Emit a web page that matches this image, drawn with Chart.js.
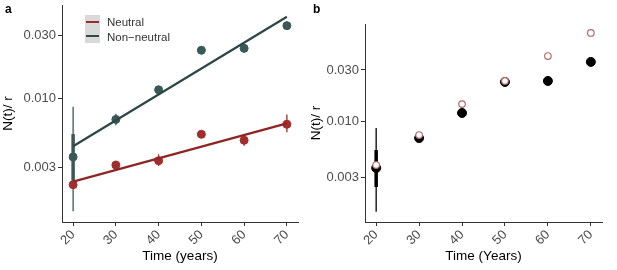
<!DOCTYPE html>
<html>
<head>
<meta charset="utf-8">
<script src="https://cdn.jsdelivr.net/npm/chart.js@4.4.1/dist/chart.umd.min.js"></script>
<style>
  body { margin: 0; background: #fff; font-family: "Liberation Sans", Arial, sans-serif; }
  #wrap { position: relative; width: 617px; height: 270px; overflow: hidden; }
  .panel { position: absolute; top: 0; height: 270px; }
  .tag { position: absolute; font-weight: bold; font-size: 12px; color: #000; }
  #legend { position: absolute; left: 85px; top: 15px; font-size: 11.5px; color: #333; }
  .key { position: absolute; width: 15px; height: 14px; background: #d9d9d9; }
  .key span { position: absolute; left: 1px; right: 1px; top: 6px; height: 2px; }
  .lab { position: absolute; left: 22px; white-space: nowrap; }
</style>
</head>
<body>
<div id="wrap">
  <div class="panel" style="left:0;width:308px"><canvas id="chartA"></canvas></div>
  <div class="panel" style="left:308px;width:309px"><canvas id="chartB"></canvas></div>
  <div class="tag" style="left:5px;top:2px">a</div>
  <div class="tag" style="left:313px;top:2px">b</div>
  <div id="legend">
    <div class="key" style="top:0"><span style="background:#9b2a2a"></span></div>
    <div class="lab" style="top:1px">Neutral</div>
    <div class="key" style="top:14px"><span style="background:#2f4a47"></span></div>
    <div class="lab" style="top:16px">Non&minus;neutral</div>
  </div>
</div>
<script>
// data
const years = [20, 30, 40, 50, 60, 70];
const xTicks = [20, 30, 40, 50, 60, 70];
const yTicks = [0.003, 0.010, 0.030];

// panel a, non-neutral
const nonNeutral   = [0.00363, 0.00697, 0.01167, 0.0232, 0.0240, 0.0356];
const nonNeutralLo = [0.00141, 0.0063, 0.0110, 0.0232, 0.0222, 0.0332];
const nonNeutralHi = [0.0087, 0.0077, 0.0124, 0.0232, 0.0260, 0.0382];
const nonNeutralThickLo = [0.0024, null, null, null, null, null];
const nonNeutralThickHi = [0.0054, null, null, null, null, null];
const nonNeutralFit = [0.00437, 0.0416]; // at 20 and 70

// panel a, neutral
const neutral   = [0.00224, 0.00315, 0.0034, 0.00538, 0.00485, 0.0064];
const neutralLo = [0.00224, 0.0029, 0.0031, 0.00538, 0.0044, 0.00557];
const neutralHi = [0.00224, 0.0034, 0.0038, 0.00538, 0.0053, 0.0076];
const neutralFit = [0.00236, 0.0065];

// panel b
const observed   = [0.00364, 0.00693, 0.0119, 0.0232, 0.0237, 0.0357];
const observedLo = [0.00142, null, null, null, null, null];
const observedHi = [0.00861, null, null, null, null, null];
const observedThickLo = [0.00242, null, null, null, null, null];
const observedThickHi = [0.00536, null, null, null, null, null];
const expected   = [0.00388, 0.0074, 0.0144, 0.0237, 0.0405, 0.0666];

const teal = '#3a5855';
const tealLine = '#2d4744';
const red = '#a32d2d';
const redLine = '#8e2525';

function pts(ys) {
  return years.map((x, i) => ({ x: x, y: ys[i] }));
}

// draws the vertical error bars from errLo/errHi through the scales
const errorBars = {
  id: 'errorBars',
  beforeDatasetsDraw(chart) {
    const ctx = chart.ctx;
    const xs = chart.scales.x, ys = chart.scales.y;
    chart.data.datasets.forEach(ds => {
      if (!ds.errLo) return;
      ds.data.forEach((p, i) => {
        const px = xs.getPixelForValue(p.x);
        ctx.save();
        ctx.strokeStyle = ds.errColor;
        if (ds.errLo[i] != null && ds.errLo[i] !== ds.errHi[i]) {
          ctx.lineWidth = 1.3;
          ctx.beginPath();
          ctx.moveTo(px, ys.getPixelForValue(ds.errLo[i]));
          ctx.lineTo(px, ys.getPixelForValue(ds.errHi[i]));
          ctx.stroke();
        }
        if (ds.thickLo && ds.thickLo[i] != null) {
          ctx.lineWidth = 3.5;
          ctx.beginPath();
          ctx.moveTo(px, ys.getPixelForValue(ds.thickLo[i]));
          ctx.lineTo(px, ys.getPixelForValue(ds.thickHi[i]));
          ctx.stroke();
        }
        ctx.restore();
      });
    });
  }
};

function scalesFor(yMin, yMax, yWidth, xTitle) {
  return {
    x: {
      type: 'linear',
      min: 17.4,
      max: 72.6,
      afterBuildTicks: s => { s.ticks = xTicks.map(v => ({ value: v })); },
      afterFit: s => { s.height = 48; s.paddingLeft = 0; s.paddingRight = 0; },
      ticks: {
        minRotation: 45, maxRotation: 45, padding: 1,
        color: '#4d4d4d',
        font: { family: '"Liberation Sans", Arial', size: 13 }
      },
      grid: { drawOnChartArea: false, drawTicks: true, tickLength: 4, color: '#333' },
      border: { color: '#333', width: 1 },
      title: {
        display: true, text: xTitle, color: '#000',
        font: { family: '"Liberation Sans", Arial', size: 13.5 },
        padding: { top: 0, bottom: 6 }
      }
    },
    y: {
      type: 'logarithmic',
      min: yMin,
      max: yMax,
      afterBuildTicks: s => { s.ticks = yTicks.map(v => ({ value: v })); },
      afterFit: s => { s.width = yWidth; s.paddingTop = 0; s.paddingBottom = 0; },
      ticks: {
        callback: v => v.toFixed(3),
        padding: 2,
        color: '#4d4d4d',
        font: { family: '"Liberation Sans", Arial', size: 13 }
      },
      grid: { drawOnChartArea: false, drawTicks: true, tickLength: 4, color: '#333' },
      border: { color: '#333', width: 1 },
      title: {
        display: true, text: 'N(t)/ r', color: '#000',
        font: { family: '"Liberation Sans", Arial', size: 13.5 },
        padding: { top: 0, bottom: 0 }
      }
    }
  };
}

new Chart(document.getElementById('chartA'), {
  type: 'scatter',
  data: {
    datasets: [
      {
        type: 'line', data: [{ x: 20, y: nonNeutralFit[0] }, { x: 70, y: nonNeutralFit[1] }],
        borderColor: tealLine, borderWidth: 2.2, pointRadius: 0, order: 0
      },
      {
        type: 'line', data: [{ x: 20, y: neutralFit[0] }, { x: 70, y: neutralFit[1] }],
        borderColor: redLine, borderWidth: 2.2, pointRadius: 0, order: 0
      },
      {
        data: pts(neutral), backgroundColor: red, borderColor: red, pointRadius: 4, order: 2,
        errLo: neutralLo, errHi: neutralHi, errColor: red
      },
      {
        data: pts(nonNeutral), backgroundColor: teal, borderColor: teal, pointRadius: 4, order: 1,
        errLo: nonNeutralLo, errHi: nonNeutralHi, thickLo: nonNeutralThickLo, thickHi: nonNeutralThickHi,
        errColor: teal
      }
    ]
  },
  options: {
    animation: false,
    responsive: true,
    maintainAspectRatio: false,
    layout: { padding: { top: 2, right: 10, left: 0, bottom: 0 } },
    plugins: { legend: { display: false }, tooltip: { enabled: false } },
    scales: scalesFor(0.00117, 0.051, 62, 'Time (years)')
  },
  plugins: [errorBars]
});

new Chart(document.getElementById('chartB'), {
  type: 'scatter',
  data: {
    datasets: [
      {
        data: pts(expected), backgroundColor: '#fff', borderColor: '#b36a6a', borderWidth: 1.2,
        pointRadius: 3.3, order: 0
      },
      {
        data: pts(observed), backgroundColor: '#000', borderColor: '#000', pointRadius: 4.5, order: 1,
        errLo: observedLo, errHi: observedHi, thickLo: observedThickLo, thickHi: observedThickHi,
        errColor: '#000'
      }
    ]
  },
  options: {
    animation: false,
    responsive: true,
    maintainAspectRatio: false,
    layout: { padding: { top: 24, right: 15, left: 0, bottom: 0 } },
    plugins: { legend: { display: false }, tooltip: { enabled: false } },
    scales: scalesFor(0.00114, 0.0807, 57, 'Time (Years)')
  },
  plugins: [errorBars]
});
</script>
</body>
</html>
